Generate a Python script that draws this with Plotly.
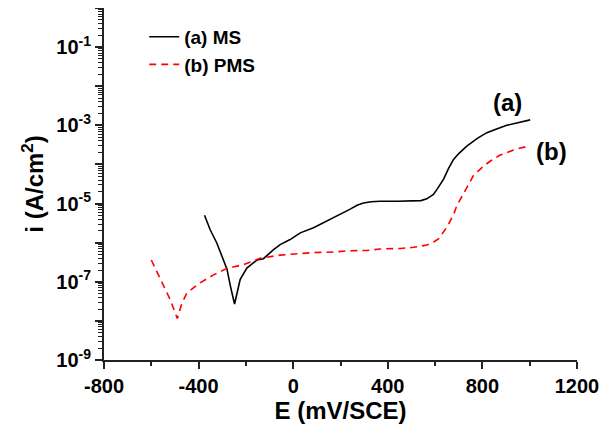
import math
import plotly.graph_objects as go

# Potential (mV vs SCE) and current density (A/cm^2)
E_ms = [-375, -351, -323, -295, -280, -266, -248, -224, -196, -153, -126, -83, -55, -13,
        8, 30, 86, 171, 241, 270, 297, 330, 368, 440, 509, 540, 565, 593, 608, 636, 657,
        678, 700, 734, 780, 819, 860, 903, 950, 1002]
i_ms = [5.0e-6, 2.14e-6, 9.8e-7, 3.6e-7, 2.1e-7, 8.0e-8, 2.7e-8, 1.15e-7, 2.24e-7, 3.6e-7,
        3.9e-7, 6.6e-7, 8.9e-7, 1.2e-6, 1.45e-6, 1.78e-6, 2.4e-6, 4.3e-6, 7.2e-6, 9.0e-6,
        1.03e-5, 1.11e-5, 1.15e-5, 1.15e-5, 1.15e-5, 1.19e-5, 1.32e-5, 1.7e-5, 2.3e-5,
        4.2e-5, 7.9e-5, 1.35e-4, 1.9e-4, 2.95e-4, 4.7e-4, 6.5e-4, 8.1e-4, 1.0e-3, 1.17e-3,
        1.38e-3]

E_pms = [-600, -548, -520, -490, -471, -450, -400, -337, -280, -210, -140, -55, 30, 86,
         170, 227, 312, 368, 452, 509, 565, 590, 615, 632, 650, 678, 692, 720, 748, 762,
         805, 840, 875, 945, 1002]
i_pms = [3.6e-7, 8.0e-8, 3.5e-8, 1.15e-8, 2.8e-8, 5.1e-8, 8.9e-8, 1.5e-7, 2.2e-7, 2.75e-7,
         4.0e-7, 4.8e-7, 5.4e-7, 5.6e-7, 5.75e-7, 6.2e-7, 6.3e-7, 6.9e-7, 7.1e-7, 7.6e-7,
         8.7e-7, 1.0e-6, 1.26e-6, 1.7e-6, 2.5e-6, 5.2e-6, 8.9e-6, 1.78e-5, 3.8e-5, 5.2e-5,
         9.1e-5, 1.3e-4, 1.74e-4, 2.5e-4, 3.0e-4]

series_names = ["(a) MS", "(b) PMS"]
curve_labels = ["(a)", "(b)"]
label_pos_E = [905, 1091]
label_pos_i = [10 ** -2.41, 10 ** -3.67]

y_decades = [-9, -8, -7, -6, -5, -4, -3, -2, -1, 0]
y_ticktext = ["10<sup>-9</sup>", "", "10<sup>-7</sup>", "", "10<sup>-5</sup>", "",
              "10<sup>-3</sup>", "", "10<sup>-1</sup>", ""]
x_ticks = [-800, -400, 0, 400, 800, 1200]
x_ticktext = ["-800", "-400", "0", "400", "800", "1200"]

FONT = "Liberation Sans, Arial, Helvetica, sans-serif"

fig = go.Figure()
fig.add_trace(go.Scatter(x=E_ms, y=i_ms, mode="lines", name=series_names[0],
                         line=dict(color="black", width=1.6)))
fig.add_trace(go.Scatter(x=E_pms, y=i_pms, mode="lines", name=series_names[1],
                         line=dict(color="#ff0000", width=1.6, dash="7px,5px")))

for lab, xe, yi in zip(curve_labels, label_pos_E, label_pos_i):
    fig.add_annotation(x=xe, y=math.log10(yi), text=lab, showarrow=False,
                       font=dict(family=FONT, size=24, color="black", weight="bold"))

# the page body adds an 8px offset, so margins are measured from there
fig.update_layout(
    width=603, height=422,
    margin=dict(l=96, r=34, t=0, b=70, autoexpand=False),
    paper_bgcolor="white", plot_bgcolor="white",
    font=dict(family=FONT, color="black", weight="bold"),
    showlegend=True,
    legend=dict(x=0.085, y=0.972, xanchor="left", yanchor="top",
                bgcolor="rgba(0,0,0,0)", font=dict(family=FONT, size=19, weight="bold"),
                tracegroupgap=0),
)
fig.update_xaxes(
    range=[-800, 1200], tickvals=x_ticks, ticktext=x_ticktext, ticks="outside", ticklen=7,
    tickwidth=1.5, tickcolor="#222", showline=True, linecolor="#222", linewidth=2,
    showgrid=False, zeroline=False, tickfont=dict(family=FONT, size=20, weight="bold"),
    minor=dict(dtick=200, ticks="outside", ticklen=4, tickwidth=1.5, tickcolor="#222", showgrid=False),
    title=dict(text="E (mV/SCE)", font=dict(family=FONT, size=24, weight="bold"), standoff=6),
)
fig.update_yaxes(
    type="log", range=[-9, 0], tickvals=[10 ** d for d in y_decades], ticktext=y_ticktext,
    ticks="outside", ticklen=7, tickwidth=1.5, tickcolor="#222", showline=True,
    linecolor="#222", linewidth=2, showgrid=False, zeroline=False,
    tickfont=dict(family=FONT, size=20, weight="bold"),
    minor=dict(dtick="D1", ticks="outside", ticklen=4, tickwidth=1, tickcolor="#222", showgrid=False),
    title=dict(text="i (A/cm<sup>2</sup>)", font=dict(family=FONT, size=24, weight="bold"), standoff=6),
)

fig.write_html("out.html")
